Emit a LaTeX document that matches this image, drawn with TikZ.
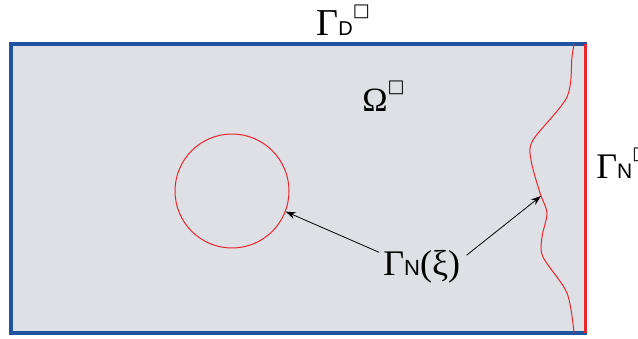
\documentclass[tikz,border=0pt]{standalone}
\usepackage{fontspec}
\setmainfont{Liberation Serif}
\newfontfamily\subfont{Liberation Sans}
\newfontfamily\boxfont{DejaVu Sans}
\usetikzlibrary{arrows.meta}

\definecolor{bordbleu}{HTML}{2053A1}
\definecolor{bordrouge}{HTML}{E8262E}
\definecolor{fondgris}{HTML}{DEE0E5}

% indices et exposants
\newcommand{\indice}[2]{{\subfont\fontsize{#1}{#1}\selectfont #2}}
\newcommand{\carre}{\raisebox{9.5pt}{\boxfont\fontsize{9pt}{9pt}\selectfont □}}

\begin{document}
\begin{tikzpicture}[x=0.5pt, y=-0.5pt]
    \useasboundingbox (0,0) rectangle (638,338);
    % Domaine
    \fill[fondgris] (11,44) rectangle (585,333);
    \draw[bordbleu, line width=2pt] (587,44) -- (11,44) -- (11,333) -- (587,333);
    \draw[bordrouge, line width=1.5pt] (585,44) -- (585,333);

    % Frontieres internes
    \node (trou) [circle, draw=bordrouge, line width=0.5pt, minimum size=57pt, inner sep=0pt] at (232,191) {};
    \draw[bordrouge, line width=0.5pt] plot[smooth] coordinates {(574,44) (572,57) (567,97) (533,140) (531,160) (540,193) (547,213) (542,237) (543,257) (567,293) (574,333)};
    \coordinate (vague) at (541,196);

    % Etiquettes
    \node (gd) [anchor=base west, inner sep=0pt, font=\fontsize{19pt}{19pt}\selectfont] at (316,35) {Γ\indice{10pt}{D}\carre};
    \node (om) [anchor=base west, inner sep=0pt, font=\fontsize{17pt}{17pt}\selectfont] at (362,111) {Ω\carre};
    \node (gn) [anchor=base west, inner sep=0pt, font=\fontsize{18pt}{18pt}\selectfont] at (596,178) {Γ\indice{10.5pt}{N}\carre};
    \node (gxi) [anchor=base west, inner sep=0pt, font=\fontsize{18pt}{18pt}\selectfont] at (383,275) {Γ\indice{11pt}{N}(ξ)};

    % Fleches
    \draw[-{Stealth[length=5pt, width=3.5pt]}, line width=0.4pt] (gxi.west) ++(-4,-14) -- (trou.339);
    \draw[-{Stealth[length=5pt, width=3.5pt]}, line width=0.4pt] (gxi.east) ++(6,-11) -- (vague);
\end{tikzpicture}
\end{document}
